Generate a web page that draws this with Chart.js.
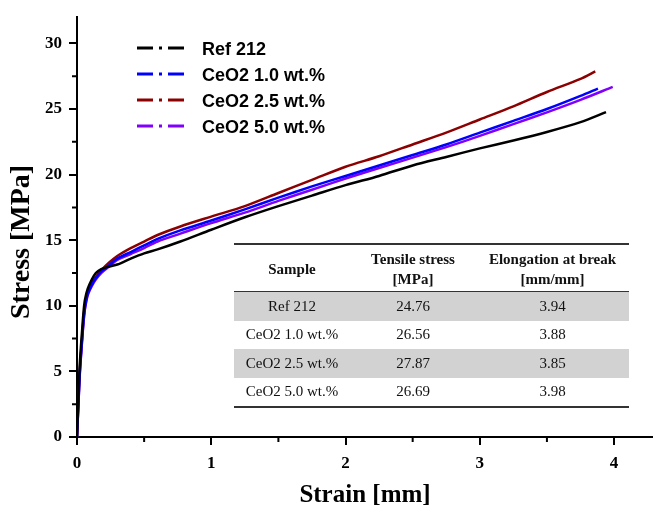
<!DOCTYPE html>
<html>
<head>
<meta charset="utf-8">
<script src="https://cdn.jsdelivr.net/npm/chart.js@4.4.0/dist/chart.umd.min.js"></script>
<style>
  body { margin: 0; background: #fff; }
  #wrap { position: relative; width: 653px; height: 508px; }
  #wrap canvas { position: absolute; left: 0; top: 0; }
  #props {
    position: absolute; left: 234px; top: 243px; width: 395px;
    border-collapse: collapse; font-family: 'Liberation Serif', serif; font-size: 15px; color: #111;
    border-top: 2px solid #333; border-bottom: 2px solid #333;
  }
  #props th { font-weight: bold; font-size: 15px; line-height: 20px; height: 44px; padding: 2px 0 0 0; border-bottom: 1.5px solid #333; }
  #props td { text-align: center; height: 28.5px; padding: 0; }
  #props tr.shade td { background: #d2d2d2; }
</style>
</head>
<body>
<div id="wrap">
  <canvas id="chart" width="653" height="508"></canvas>
  <table id="props">
    <thead><tr><th style="width:116px">Sample</th><th style="width:126px">Tensile stress<br>[MPa]</th><th>Elongation at break<br>[mm/mm]</th></tr></thead>
    <tbody></tbody>
  </table>
</div>
<script>
// series names and colours
const seriesNames = ['Ref 212', 'CeO2 1.0 wt.%', 'CeO2 2.5 wt.%', 'CeO2 5.0 wt.%'];
const seriesColors = ['#000000', '#0000ff', '#8b0000', '#8000ff'];

// strain points shared by all curves, each curve then gets its own break point
const strainGrid = [0, 0.01, 0.02, 0.03, 0.04, 0.05, 0.06, 0.08, 0.11, 0.14, 0.18, 0.24, 0.3, 0.4, 0.5, 0.6,
  0.77, 1.0, 1.25, 1.5, 1.75, 2.0, 2.25, 2.5, 2.75, 3.0, 3.25, 3.5, 3.75];
const breakStrain = [3.94, 3.88, 3.86, 3.99];

const stressRef = [0, 3.0, 5.4, 7.0, 8.4, 9.7, 10.5, 11.3, 12.0, 12.5, 12.8, 13.0, 13.15, 13.6, 14.0, 14.3,
  14.9, 15.8, 16.75, 17.6, 18.4, 19.2, 19.9, 20.7, 21.35, 22.0, 22.6, 23.25, 24.0, 24.76];
const stressCe10 = [0, 2.4, 4.7, 6.3, 7.7, 9.0, 9.9, 10.9, 11.6, 12.1, 12.6, 13.1, 13.6, 14.1, 14.6, 15.1,
  15.75, 16.5, 17.35, 18.25, 19.1, 19.9, 20.7, 21.5, 22.3, 23.2, 24.1, 25.0, 26.0, 26.56];
const stressCe25 = [0, 2.6, 4.9, 6.5, 7.9, 9.2, 10.1, 11.0, 11.7, 12.2, 12.7, 13.3, 13.8, 14.4, 14.9, 15.4,
  16.05, 16.8, 17.6, 18.6, 19.6, 20.6, 21.4, 22.3, 23.2, 24.2, 25.2, 26.3, 27.3, 27.87];
const stressCe50 = [0, 2.3, 4.6, 6.2, 7.6, 8.9, 9.8, 10.8, 11.5, 12.0, 12.5, 13.0, 13.5, 13.95, 14.4, 14.9,
  15.5, 16.3, 17.1, 18.0, 18.85, 19.7, 20.5, 21.3, 22.1, 22.95, 23.85, 24.75, 25.7, 26.69];
const stressSeries = [stressRef, stressCe10, stressCe25, stressCe50];

// axis ticks
const xTicks = [0, 1, 2, 3, 4];
const xMinorTicks = [0.5, 1.5, 2.5, 3.5];
const yTicks = [0, 5, 10, 15, 20, 25, 30];
const yMinorTicks = [2.5, 7.5, 12.5, 17.5, 22.5, 27.5];

// inset table
const tableSamples = ['Ref 212', 'CeO2 1.0 wt.%', 'CeO2 2.5 wt.%', 'CeO2 5.0 wt.%'];
const tensileStress = ['24.76', '26.56', '27.87', '26.69'];
const elongation = ['3.94', '3.88', '3.85', '3.98'];

document.querySelector('#props tbody').innerHTML = tableSamples
  .map((s, i) => `<tr class="${i % 2 === 0 ? 'shade' : ''}"><td>${s}</td><td>${tensileStress[i]}</td><td>${elongation[i]}</td></tr>`)
  .join('');

const datasets = seriesNames.map((name, i) => ({
  label: name,
  data: strainGrid.concat([breakStrain[i]]).map((x, j) => ({ x: x, y: stressSeries[i][j] })),
  borderColor: seriesColors[i],
  borderWidth: 2.5,
  showLine: true,
  pointRadius: 0,
  tension: 0.3
}));

// short outward minor ticks, like Origin draws them
const minorTicks = {
  id: 'minorTicks',
  afterDraw(chart) {
    const ctx = chart.ctx, xs = chart.scales.x, ys = chart.scales.y;
    ctx.save();
    ctx.strokeStyle = '#000';
    ctx.lineWidth = 2;
    ctx.beginPath();
    xMinorTicks.forEach(v => { const p = xs.getPixelForValue(v); ctx.moveTo(p, ys.bottom); ctx.lineTo(p, ys.bottom + 5); });
    yMinorTicks.forEach(v => { const p = ys.getPixelForValue(v); ctx.moveTo(xs.left, p); ctx.lineTo(xs.left - 5, p); });
    ctx.stroke();
    ctx.restore();
  }
};

// y title sits a bit below the axis middle in the original
const yTitle = {
  id: 'yTitle',
  afterDraw(chart) {
    const ctx = chart.ctx;
    ctx.save();
    ctx.translate(22, 242);
    ctx.rotate(-Math.PI / 2);
    ctx.font = "bold 28px 'Liberation Serif', 'Times New Roman', serif";
    ctx.fillStyle = '#000';
    ctx.textAlign = 'center';
    ctx.textBaseline = 'middle';
    ctx.fillText('Stress [MPa]', 0, 0);
    ctx.restore();
  }
};

// dash-dot legend in the upper left
const dashLegend = {
  id: 'dashLegend',
  afterDraw(chart) {
    const ctx = chart.ctx;
    ctx.save();
    ctx.font = "bold 18px 'Liberation Sans', Arial, sans-serif";
    ctx.textBaseline = 'middle';
    seriesNames.forEach((name, i) => {
      const y = 48 + i * 26;
      ctx.strokeStyle = seriesColors[i];
      ctx.lineWidth = 3;
      ctx.setLineDash([16, 6, 3, 6]);
      ctx.beginPath();
      ctx.moveTo(137, y);
      ctx.lineTo(186, y);
      ctx.stroke();
      ctx.setLineDash([]);
      ctx.fillStyle = '#000';
      ctx.fillText(name, 202, y + 2);
    });
    ctx.restore();
  }
};

const tickFont = { family: "'Liberation Serif', 'Times New Roman', serif", size: 17, weight: 'bold' };
const titleFont = { family: "'Liberation Serif', 'Times New Roman', serif", size: 25, weight: 'bold', lineHeight: 1 };

new Chart(document.getElementById('chart'), {
  type: 'scatter',
  data: { datasets: datasets },
  options: {
    responsive: false,
    animation: false,
    layout: { padding: { top: 13, right: 0, bottom: 0, left: 0 } },
    plugins: { legend: { display: false }, tooltip: { enabled: false } },
    scales: {
      x: {
        type: 'linear', min: 0, max: 4.29,
        afterBuildTicks: s => { s.ticks = xTicks.map(v => ({ value: v })); },
        afterFit: s => { s.height = 71; },
        ticks: { color: '#000', font: tickFont, padding: 8, maxRotation: 0 },
        grid: { drawOnChartArea: false, drawTicks: true, tickLength: 8, color: '#000', lineWidth: 2 },
        border: { display: true, color: '#000', width: 2 },
        title: { display: true, text: 'Strain [mm]', color: '#000', font: titleFont, padding: { top: 0, bottom: 0 } }
      },
      y: {
        type: 'linear', min: 0, max: 32,
        afterBuildTicks: s => { s.ticks = yTicks.map(v => ({ value: v })); },
        afterFit: s => { s.width = 77; },
        ticks: { color: '#000', font: tickFont, padding: 7 },
        grid: { drawOnChartArea: false, drawTicks: true, tickLength: 8, color: '#000', lineWidth: 2 },
        border: { display: true, color: '#000', width: 2 }
      }
    }
  },
  plugins: [minorTicks, yTitle, dashLegend]
});
</script>
</body>
</html>
